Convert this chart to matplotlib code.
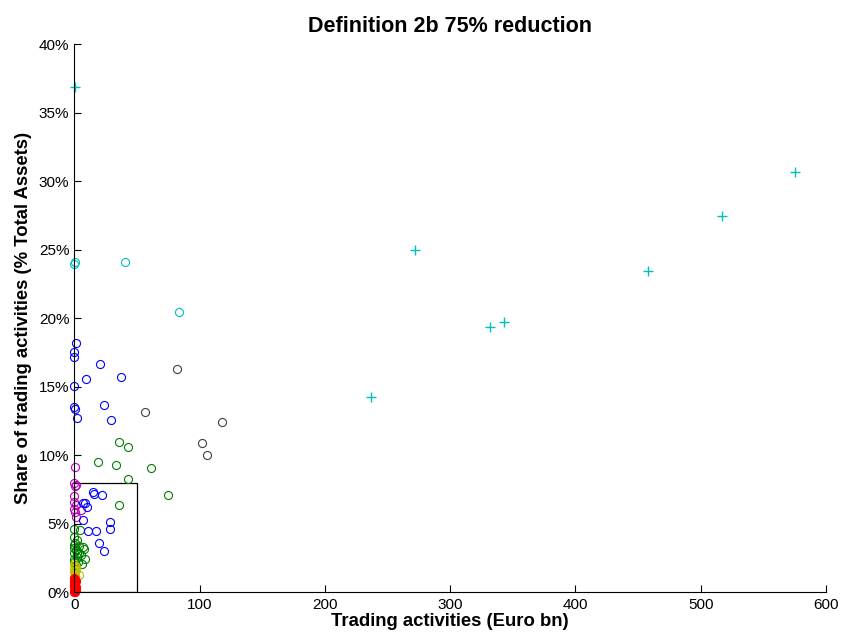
#!/usr/bin/env python3
# -*- coding: utf-8 -*-

import matplotlib
matplotlib.use('Agg')
from matplotlib import pyplot as plt
from matplotlib.patches import Rectangle
from matplotlib.ticker import FuncFormatter

# trading activities (Euro bn) / share of trading activities (% of total assets)
plus_x = [0.6, 271.7, 331.6, 342.7, 237.1, 575.3, 517.2, 457.7]
plus_y = [36.9, 25.0, 19.4, 19.75, 14.25, 30.7, 27.5, 23.45]

cyan_x = [0.0, 0.3, 40.5, 83.3]
cyan_y = [24.0, 24.1, 24.15, 20.5]

gray_x = [82.0, 117.9, 102.2, 105.9, 56.4]
gray_y = [16.3, 12.45, 10.9, 10.0, 13.15]

blue_x = [1.1, 0.0, 0.0, 20.3, 9.6, 37.3, 0.0, 0.0, 0.3, 2.2, 24.0, 29.3,
          14.9, 15.5, 21.9, 7.2, 8.8, 10.4, 6.9, 28.5, 28.5, 10.7, 17.3,
          19.7, 24.0]
blue_y = [18.2, 17.55, 17.15, 16.65, 15.6, 15.7, 15.1, 13.5, 13.4, 12.7,
          13.7, 12.6, 7.3, 7.15, 7.1, 6.55, 6.5, 6.25, 5.25, 5.1, 4.6, 4.45,
          4.5, 3.6, 3.05]

green_x = [35.4, 42.9, 18.9, 33.3, 61.5, 42.9, 74.8, 35.9, 0.0, 4.5, 0.0,
           1.9, 0.0, 3.5, 6.7, 7.5, 0.0, 4.0, 1.5, 0.0, 8.3, 5.9, 2.5, 0.5,
           3.0, 1.0, 0.0, 2.0, 5.0, 0.0]
green_y = [10.95, 10.6, 9.5, 9.3, 9.1, 8.25, 7.1, 6.35, 4.6, 4.55, 4.05,
           3.8, 3.45, 3.4, 3.3, 3.15, 2.85, 2.85, 3.1, 2.45, 2.4, 2.1, 2.6,
           3.6, 2.25, 2.0, 3.2, 2.9, 2.7, 2.2]

mag_x = [0.3, 0.0, 0.5, 1.0, 0.0, 0.0, 1.5, 0.0, 5.1, 1.4, 0.5]
mag_y = [9.15, 7.95, 7.75, 7.85, 7.05, 6.6, 6.4, 6.1, 6.0, 5.5, 5.9]

yel_x = [0.0, 0.5, 0.0, 1.0, 0.0, 0.3, 4.0, 0.8, 0.0, 1.5, 0.2]
yel_y = [2.05, 1.9, 1.75, 1.6, 1.45, 1.3, 1.25, 1.15, 1.05, 1.85, 1.5]

red_x = [0.0, 0.5, 0.0, 1.2, 0.2, 0.0, 0.8, 0.0, 1.5, 0.3, 0.0, 1.0, 0.0, 0.5]
red_y = [1.05, 0.95, 0.85, 0.8, 0.7, 0.6, 0.55, 0.45, 0.4, 0.3, 0.2, 0.15,
         0.05, 0.0]

# zoom box drawn on the chart
box_w = 50
box_h = 8

plt.rcParams['font.family'] = ['Liberation Sans', 'DejaVu Sans']

fig = plt.figure(figsize=(8.43, 6.35), dpi=100)
ax = fig.add_axes([0.0881, 0.0672, 0.8917, 0.8628])

ms = 5.8
lw = 0.8
ax.plot(green_x, green_y, 'o', ms=ms, mfc='none', mec=(0, 0.5, 0), mew=lw, clip_on=False)
ax.plot(yel_x, yel_y, 'o', ms=ms, mfc='none', mec=(0.75, 0.75, 0), mew=lw, clip_on=False)
ax.plot(red_x, red_y, 'o', ms=ms, mfc='red', mec='red', mew=lw, clip_on=False)
ax.plot(mag_x, mag_y, 'o', ms=ms, mfc='none', mec=(0.75, 0, 0.75), mew=lw, clip_on=False)
ax.plot(blue_x, blue_y, 'o', ms=ms, mfc='none', mec='blue', mew=lw, clip_on=False)
ax.plot(gray_x, gray_y, 'o', ms=ms, mfc='none', mec=(0.25, 0.25, 0.25), mew=lw, clip_on=False)
ax.plot(cyan_x, cyan_y, 'o', ms=ms, mfc='none', mec=(0, 0.75, 0.75), mew=lw, clip_on=False)
ax.plot(plus_x, plus_y, '+', ms=7, color=(0, 0.75, 0.75), mew=1.0, clip_on=False)

ax.add_patch(Rectangle((0, 0), box_w, box_h, fill=False, ec='black', lw=0.9))

ax.set_xlim(0, 600)
ax.set_ylim(0, 40)
ax.set_xticks(range(0, 601, 100))
ax.set_yticks(range(0, 41, 5))
ax.yaxis.set_major_formatter(FuncFormatter(lambda v, p: '%d%%' % v))

ax.spines['top'].set_visible(False)
ax.spines['right'].set_visible(False)
ax.tick_params(direction='in', length=5, labelsize=11, width=0.8)
ax.tick_params(axis='x', pad=4)

ax.set_title('Definition 2b 75% reduction', fontsize=15.5, fontweight='bold', pad=9)
ax.set_xlabel('Trading activities (Euro bn)', fontsize=13.3, fontweight='bold', labelpad=1)
ax.set_ylabel('Share of trading activities (% Total Assets)', fontsize=13.3, fontweight='bold', labelpad=5)

plt.savefig('out.png', dpi=100)
